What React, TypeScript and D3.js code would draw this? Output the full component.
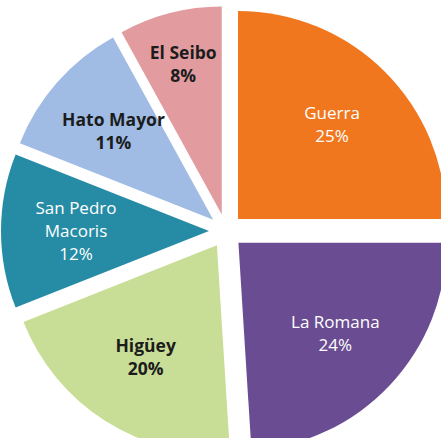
import * as d3 from "d3";
import React from "react";

// slices, clockwise from 12 o'clock
const categories = ["Guerra", "La Romana", "Higüey", "San Pedro Macoris", "Hato Mayor", "El Seibo"];
const labelLines = [["Guerra"], ["La Romana"], ["Higüey"], ["San Pedro", "Macoris"], ["Hato Mayor"], ["El Seibo"]];
const shares = [25, 24, 20, 12, 11, 8];

const colours = ["#f1771f", "#6a4c92", "#c8de96", "#268ca5", "#a0bce4", "#e29ca0"];
const textColours = ["#ffffff", "#ffffff", "#1c1c1c", "#ffffff", "#1c1c1c", "#1c1c1c"];
const textWeights = [500, 500, 700, 500, 700, 700];

export default function App() {
  const w = 441;
  const h = 438;
  const cx = 226;
  const cy = 231;
  const radius = 208;
  const explode = 17;
  const lineHeight = 23;

  const pie = d3.pie<number>().sort(null).value((d) => d);
  const arcs = pie(shares);
  const arc = d3.arc<d3.PieArcDatum<number>>().innerRadius(0).outerRadius(radius);

  return (
    <div style={{ position: "absolute", left: 0, top: 0 }}>
      <svg width={w} height={h} style={{ display: "block", background: "#ffffff" }}>
        <g transform={`translate(${cx}, ${cy})`}>
          {arcs.map((d, i) => {
            const mid = (d.startAngle + d.endAngle) / 2;
            const ox = Math.sin(mid) * explode;
            const oy = -Math.cos(mid) * explode;
            // narrow slices get their label pushed further out
            const labelR = d.endAngle - d.startAngle < 0.6 ? 155 : 133;
            const lx = Math.sin(mid) * labelR;
            const ly = -Math.cos(mid) * labelR;
            const lines = [...labelLines[i], `${d.data}%`];
            const top = ly - ((lines.length - 1) * lineHeight) / 2;
            return (
              <g key={categories[i]} transform={`translate(${ox}, ${oy})`}>
                <path d={arc(d) || ""} fill={colours[i]} />
                <text
                  textAnchor="middle"
                  fill={textColours[i]}
                  fontFamily="'Open Sans', 'Noto Sans', sans-serif"
                  fontSize={textWeights[i] > 600 ? 17.5 : 17}
                  fontWeight={textWeights[i]}
                >
                  {lines.map((t, j) => (
                    <tspan key={j} x={lx} y={top + j * lineHeight} dy="0.35em">
                      {t}
                    </tspan>
                  ))}
                </text>
              </g>
            );
          })}
        </g>
      </svg>
    </div>
  );
}
